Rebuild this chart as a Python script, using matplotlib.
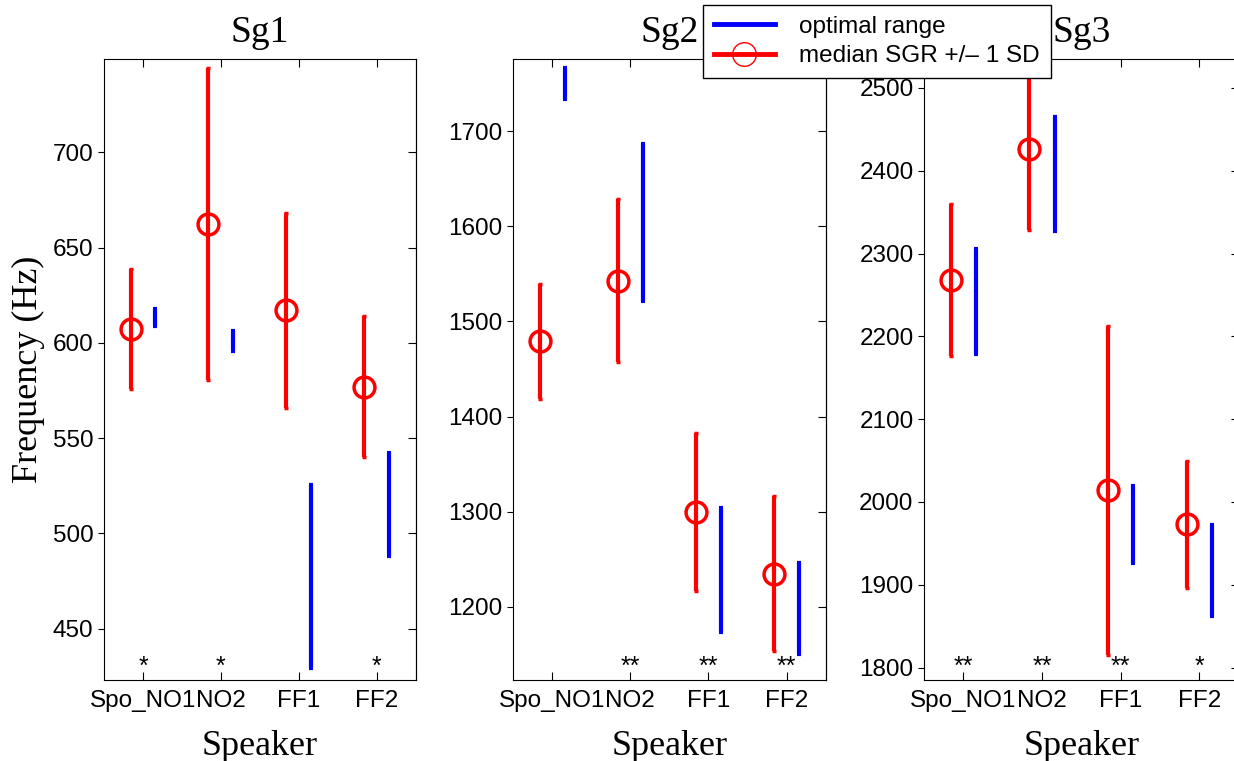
import matplotlib.pyplot as plt
import numpy as np
from matplotlib.lines import Line2D

speakers = ["Spo_NO1", "NO2", "FF1", "FF2"]
panels = ["Sg1", "Sg2", "Sg3"]

# median SGR and its standard deviation per speaker
sg1_median = [607.5, 662.5, 617, 577]
sg1_sd = [31.5, 82, 51, 37]
sg2_median = [1479, 1543, 1300, 1235]
sg2_sd = [60.5, 86, 83, 82]
sg3_median = [2268, 2426, 2014, 1973]
sg3_sd = [92, 97, 198.5, 76.5]

# optimal range (low, high) per speaker
sg1_opt_lo = [609, 595.5, 429.5, 488]
sg1_opt_hi = [617.5, 606, 525.5, 542]
sg2_opt_lo = [1734, 1522, 1173, 1150]
sg2_opt_hi = [1766, 1687, 1304, 1246]
sg3_opt_lo = [2179, 2327, 1926, 1862]
sg3_opt_hi = [2306, 2465, 2019, 1972]

# significance marks
sg1_sig = ["*", "*", "", "*"]
sg2_sig = ["", "**", "**", "**"]
sg3_sig = ["**", "**", "**", "*"]

medians = [sg1_median, sg2_median, sg3_median]
sds = [sg1_sd, sg2_sd, sg3_sd]
opt_lo = [sg1_opt_lo, sg2_opt_lo, sg3_opt_lo]
opt_hi = [sg1_opt_hi, sg2_opt_hi, sg3_opt_hi]
sigs = [sg1_sig, sg2_sig, sg3_sig]

ylims = [(423, 749), (1123, 1776), (1785, 2535)]
yticks = [np.arange(450, 701, 50), np.arange(1200, 1701, 100), np.arange(1800, 2501, 100)]

sans = "Liberation Sans"
serif = "Liberation Serif"
plt.rcParams["font.family"] = sans

fig = plt.figure(figsize=(12.34, 7.61), dpi=100)
lefts = [0.0843, 0.4157, 0.7488]
widths = [0.2527, 0.2535, 0.2550]
bottom = 0.1064
height = 0.8161

x = np.arange(1, 5)
for i in range(3):
    ax = fig.add_axes([lefts[i], bottom, widths[i], height])
    med = np.array(medians[i])
    sd = np.array(sds[i])
    lo = np.array(opt_lo[i])
    hi = np.array(opt_hi[i])

    ax.errorbar(x + 0.16, (lo + hi) / 2, yerr=(hi - lo) / 2, fmt="none",
                ecolor="blue", elinewidth=3, capsize=1.5, capthick=3)
    ax.errorbar(x - 0.16, med, yerr=sd, fmt="o", color="red", mfc="none",
                ms=15, mew=2.5, elinewidth=3, capsize=1.5, capthick=3)

    for xi, s in zip(x, sigs[i]):
        if s:
            ax.text(xi, 0.01, s, transform=ax.get_xaxis_transform(),
                    ha="center", va="baseline", fontsize=18, fontfamily=sans)

    ax.set_xlim(0.5, 4.5)
    ax.set_ylim(*ylims[i])
    ax.set_xticks(x)
    ax.set_xticklabels(speakers)
    ax.set_yticks(yticks[i])
    ax.tick_params(axis="x", direction="in", top=True, length=6, labelsize=17.5, pad=7)
    ax.tick_params(axis="y", direction="out", right=False, length=4, labelsize=17.5)
    right = ax.secondary_yaxis("right")
    right.set_yticks(yticks[i])
    right.tick_params(direction="in", length=6, labelright=False)

    ax.set_title(panels[i], fontfamily=serif, fontsize=27, pad=12)
    ax.set_xlabel("Speaker", fontfamily=serif, fontsize=26, labelpad=13)
    if i == 0:
        ax.set_ylabel("Frequency (Hz)", fontfamily=serif, fontsize=26, labelpad=6)

handles = [
    Line2D([], [], color="blue", lw=3.5),
    Line2D([], [], color="red", lw=3.5, marker="o", mfc="none", ms=17, mew=1),
]
leg = fig.legend(handles, ["optimal range", "median SGR +/\u2013 1 SD"],
                 loc="upper left", bbox_to_anchor=(0.5697, 0.9934),
                 borderaxespad=0, fontsize=17.5, fancybox=False, framealpha=1,
                 edgecolor="black", handlelength=2.5, handletextpad=1.0,
                 labelspacing=0.3, borderpad=0.45)
leg.get_frame().set_linewidth(1)

fig.savefig("out.png", dpi=100)
